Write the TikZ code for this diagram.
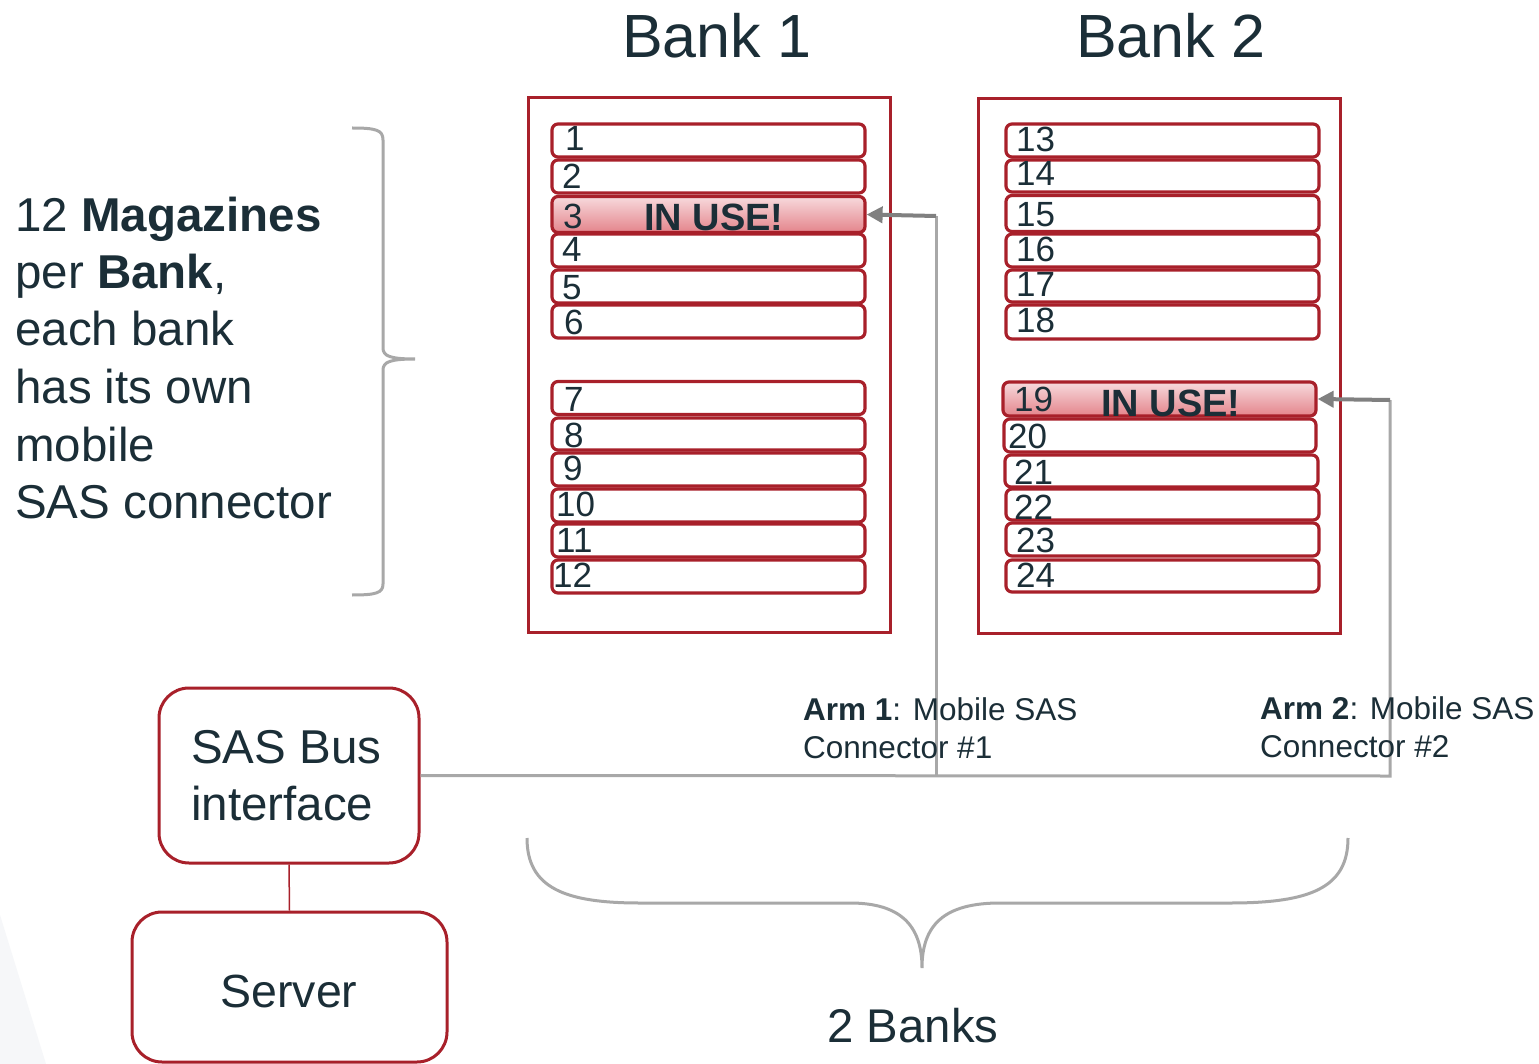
\documentclass[tikz,border=0pt]{standalone}
\usepackage{fontspec}
\setmainfont{Liberation Sans}
\usetikzlibrary{arrows.meta}
\definecolor{bred}{HTML}{A8202A}
\definecolor{txt}{HTML}{1B2E37}
\definecolor{busgray}{HTML}{A8A8A8}
\definecolor{armgray}{HTML}{808080}
\definecolor{pinktop}{HTML}{F7DADD}
\definecolor{pinkbot}{HTML}{E4848B}
\tikzset{
  bank/.style={draw=bred, line width=3pt, inner sep=0pt},
  slot/.style={draw=bred, line width=3.2pt, rounded corners=6pt, inner sep=0pt, fill=white},
  inuse/.style={slot, top color=pinktop, bottom color=pinkbot},
  num/.style={text=txt, inner sep=0pt, anchor=base west, font=\fontsize{35}{40}\selectfont},
  uselbl/.style={text=txt, inner sep=0pt, anchor=base, font=\fontsize{38}{44}\selectfont\bfseries},
  big/.style={text=txt, inner sep=0pt, anchor=base west, font=\fontsize{47.5}{57}\selectfont},
  armlbl/.style={text=txt, inner sep=0pt, anchor=base west, font=\fontsize{31.5}{38}\selectfont},
  box/.style={draw=bred, line width=3pt, rounded corners=30pt, fill=white, inner sep=0pt},
  bus/.style={draw=busgray, line width=3pt},
  armline/.style={draw=armgray, line width=4pt, -{Triangle[length=16pt,width=16pt]}},
  brace/.style={draw=busgray, line width=3pt},
}
\begin{document}
\begin{tikzpicture}[x=1pt,y=-1pt]
\path[use as bounding box, fill=white] (0,0) rectangle (1539,1064);
% faint background shape
\fill[color={rgb,255:red,246;green,247;blue,249}] (0,915) -- (46,1064) -- (0,1064) -- cycle;

% bank titles
\node[text=txt, inner sep=0pt, anchor=base, font=\fontsize{61}{70}\selectfont] (t1) at (717,58) {Bank 1};
\node[text=txt, inner sep=0pt, anchor=base, font=\fontsize{61}{70}\selectfont] (t2) at (1171,58) {Bank 2};

% bank frames
\node[bank, minimum width=362pt, minimum height=534pt] (b1) at (709,365) {};
\node[bank, minimum width=362pt, minimum height=534pt] (b2) at (1159,366) {};

% Bank 1 slots
\node[slot, minimum width=313pt, minimum height=33pt] (s1) at (708.5,140.5) {};
\node[slot, minimum width=313pt, minimum height=33pt] (s2) at (708.5,176.5) {};
\node[inuse, minimum width=313pt, minimum height=36pt] (s3) at (708.5,214.5) {};
\node[slot, minimum width=313pt, minimum height=33pt] (s4) at (708.5,250.5) {};
\node[slot, minimum width=313pt, minimum height=33pt] (s5) at (708.5,286.5) {};
\node[slot, minimum width=313pt, minimum height=33pt] (s6) at (708.5,321.5) {};
\node[slot, minimum width=313pt, minimum height=33pt] (s7) at (708.5,398) {};
\node[slot, minimum width=313pt, minimum height=32pt] (s8) at (708.5,434) {};
\node[slot, minimum width=313pt, minimum height=33pt] (s9) at (708.5,469.5) {};
\node[slot, minimum width=313pt, minimum height=33pt] (s10) at (708.5,505.5) {};
\node[slot, minimum width=313pt, minimum height=33pt] (s11) at (708.5,540.5) {};
\node[slot, minimum width=313pt, minimum height=33pt] (s12) at (708.5,576.5) {};

\node[num] (n1) at (565,151) {1};
\node[num] (n2) at (562,189) {2};
\node[num] (n3) at (563,229) {3};
\node[uselbl] (u3) at (714,231) {IN USE!};
\node[num] (n4) at (562,262) {4};
\node[num] (n5) at (562,300) {5};
\node[num] (n6) at (564,335) {6};
\node[num] (n7) at (564,411) {7};
\node[num] (n8) at (564,447) {8};
\node[num] (n9) at (563,480) {9};
\node[num] (n10) at (556,516) {10};
\node[num] (n11) at (556,552) {11};
\node[num] (n12) at (553,587) {12};

% Bank 2 slots
\node[slot, minimum width=313pt, minimum height=33pt] (s13) at (1162.5,140.5) {};
\node[slot, minimum width=313pt, minimum height=32pt] (s14) at (1162.5,176) {};
\node[slot, minimum width=313pt, minimum height=36pt] (s15) at (1162.5,213.5) {};
\node[slot, minimum width=313pt, minimum height=33pt] (s16) at (1162.5,250.5) {};
\node[slot, minimum width=313pt, minimum height=32pt] (s17) at (1162.5,286) {};
\node[slot, minimum width=313pt, minimum height=34pt] (s18) at (1162.5,322) {};
\node[inuse, minimum width=313pt, minimum height=34pt] (s19) at (1159.5,399) {};
\node[slot, minimum width=312pt, minimum height=33pt] (s20) at (1160,435.5) {};
\node[slot, minimum width=313pt, minimum height=32pt] (s21) at (1161.5,471) {};
\node[slot, minimum width=313pt, minimum height=31pt] (s22) at (1162.5,504.5) {};
\node[slot, minimum width=313pt, minimum height=33pt] (s23) at (1162.5,539.5) {};
\node[slot, minimum width=313pt, minimum height=32pt] (s24) at (1162.5,576) {};

\node[num] (n13) at (1016,152) {13};
\node[num] (n14) at (1016,186) {14};
\node[num] (n15) at (1016,227) {15};
\node[num] (n16) at (1016,262) {16};
\node[num] (n17) at (1016,297) {17};
\node[num] (n18) at (1016,333) {18};
\node[num] (n19) at (1014,411) {19};
\node[uselbl] (u19) at (1171,416) {IN USE!};
\node[num] (n20) at (1008,448) {20};
\node[num] (n21) at (1014,484) {21};
\node[num] (n22) at (1014,519) {22};
\node[num] (n23) at (1016,552) {23};
\node[num] (n24) at (1016,587) {24};

% left text
\node[big] (l1) at (15,232) {12 \textbf{Magazines}};
\node[big] (l2) at (15,289) {per \textbf{Bank},};
\node[big] (l3) at (15,346) {each bank};
\node[big] (l4) at (15,403) {has its own};
\node[big] (l5) at (15,461) {mobile};
\node[big] (l6) at (15,518) {SAS connector};

% left brace
\draw[brace] (352,128) .. controls (376,128) and (383,130) .. (383,140) -- (383,348)
  .. controls (383,356) and (390,359) .. (415,359)
  .. controls (390,359) and (383,362) .. (383,370) -- (383,584)
  .. controls (383,593) and (376,595) .. (352,595);

% boxes
\node[box, minimum width=260pt, minimum height=175pt] (sas) at (289,775.5) {};
\node[text=txt, inner sep=0pt, anchor=base west, font=\fontsize{47.5}{57}\selectfont] (sas1) at (191,763) {SAS Bus};
\node[text=txt, inner sep=0pt, anchor=base west, font=\fontsize{47.5}{57}\selectfont] (sas2) at (191,820) {interface};
\node[box, minimum width=315pt, minimum height=150pt] (srv) at (289.5,987) {};
\node[text=txt, inner sep=0pt, anchor=base, font=\fontsize{46.5}{56}\selectfont] (srvt) at (289,1007) {Server};
\draw[draw=bred, line width=1.5pt] (sas.south) -- (srv.north);

% bus and arms
\coordinate (j1) at (936,776);
\coordinate (j2) at (1390,776);
\coordinate (c1) at (936,216);
\coordinate (c2) at (1390,400);
\draw[bus] (sas.east) -- (j2) -- (c2);
\draw[bus] (j1) -- (c1);
\draw[armline] (c1) -- (s3.east);
\draw[armline] (c2) -- (s19.east);

% arm labels
\node[armlbl] (a1) at (803,720) {\textbf{Arm 1}: Mobile SAS};
\node[armlbl] (a1b) at (803,758) {Connector \#1};
\node[armlbl] (a2) at (1260,719) {\textbf{Arm 2}: Mobile SAS};
\node[armlbl] (a2b) at (1260,757) {Connector \#2};

% bottom brace
\draw[brace] (527,838) .. controls (527,888) and (565,903) .. (640,903) -- (850,903)
  .. controls (900,903) and (922,925) .. (922,968)
  .. controls (922,925) and (944,903) .. (1000,903) -- (1230,903)
  .. controls (1310,903) and (1348,888) .. (1348,838);
\node[text=txt, inner sep=0pt, anchor=base, font=\fontsize{47.3}{56}\selectfont] (banks) at (913,1042) {2 Banks};
\end{tikzpicture}
\end{document}
